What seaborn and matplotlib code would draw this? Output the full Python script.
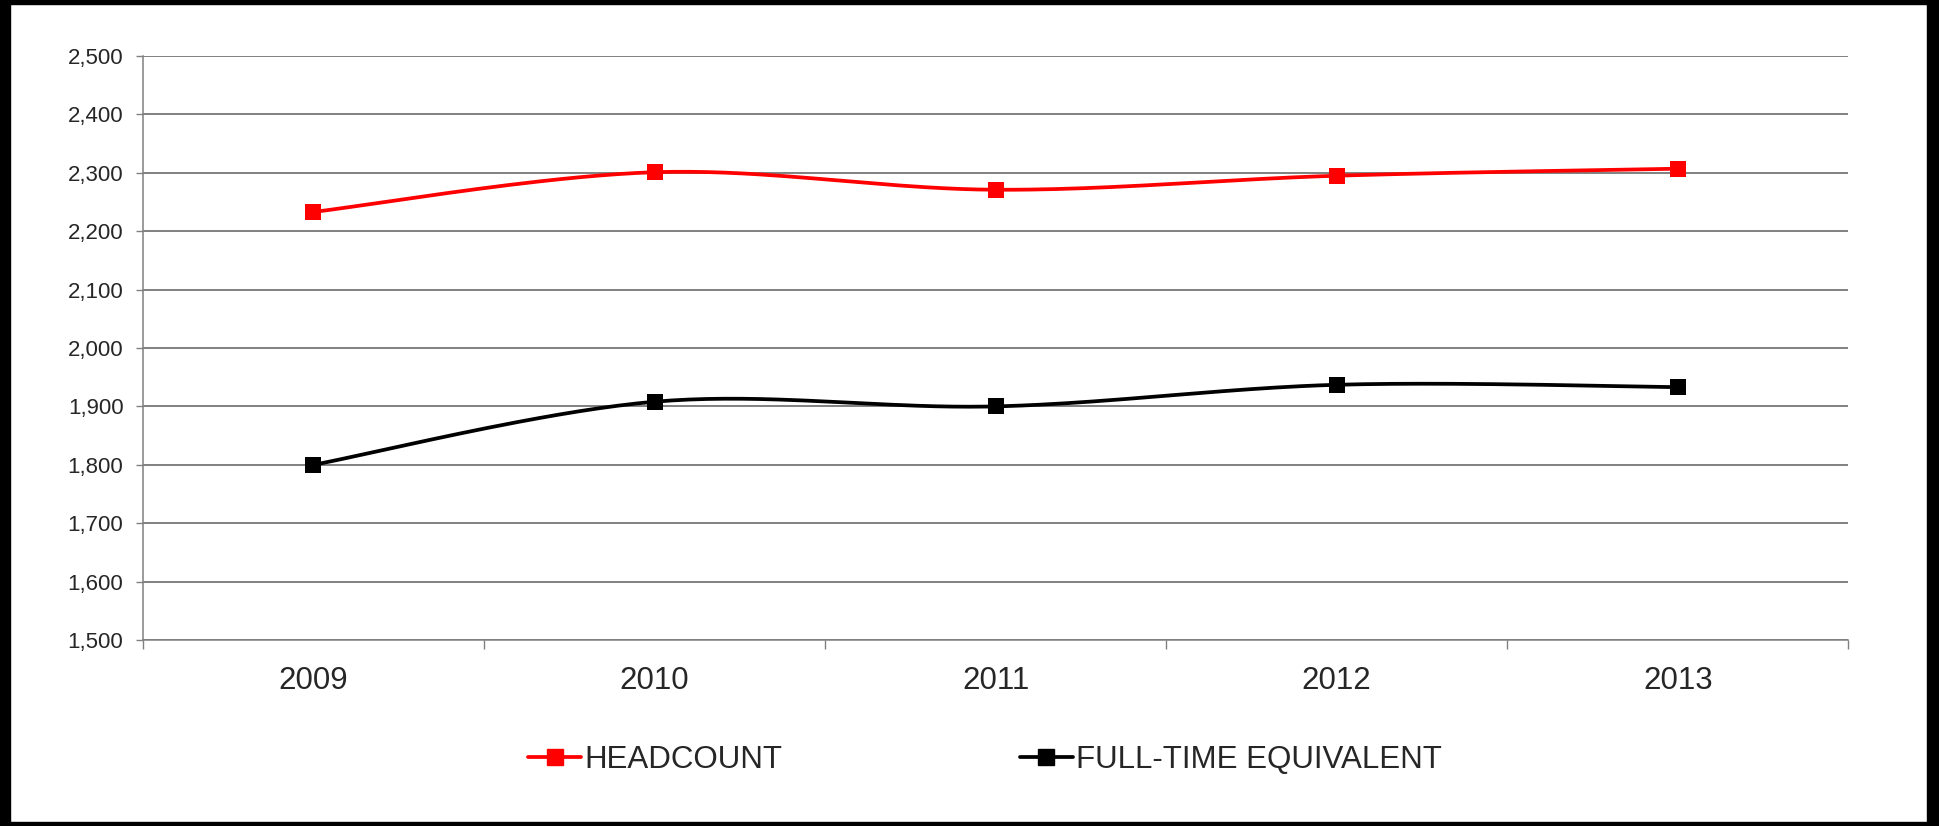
import numpy as np
import pandas as pd
import matplotlib
matplotlib.use("Agg")
import matplotlib.pyplot as plt
from matplotlib.lines import Line2D
from matplotlib.patches import Rectangle
from matplotlib.ticker import FuncFormatter
import seaborn as sns

# Data
years = ["2009", "2010", "2011", "2012", "2013"]
headcount = [2233, 2301, 2271, 2295, 2307]
fte = [1800, 1908, 1900, 1937, 1933]
series_names = ["HEADCOUNT", "FULL-TIME EQUIVALENT"]
series_colors = ["#ff0000", "#000000"]


# Excel-style smoothed line (Catmull-Rom through the data points)
def smooth_curve(values, steps=40):
    x = np.arange(len(values), dtype=float)
    y = np.asarray(values, dtype=float)
    px = np.concatenate([[x[0]], x, [x[-1]]])
    py = np.concatenate([[y[0]], y, [y[-1]]])
    xs, ys = [], []
    t = np.linspace(0, 1, steps)
    for i in range(1, len(px) - 2):
        p0x, p3x = px[i], px[i + 1]
        p0y, p3y = py[i], py[i + 1]
        p1x = p0x + (px[i + 1] - px[i - 1]) / 6
        p1y = p0y + (py[i + 1] - py[i - 1]) / 6
        p2x = p3x - (px[i + 2] - px[i]) / 6
        p2y = p3y - (py[i + 2] - py[i]) / 6
        bx = (1 - t) ** 3 * p0x + 3 * (1 - t) ** 2 * t * p1x + 3 * (1 - t) * t ** 2 * p2x + t ** 3 * p3x
        by = (1 - t) ** 3 * p0y + 3 * (1 - t) ** 2 * t * p1y + 3 * (1 - t) * t ** 2 * p2y + t ** 3 * p3y
        xs.extend(bx)
        ys.extend(by)
    return pd.DataFrame({"x": xs, "y": ys})


sns.set_style("white")
plt.rcParams["font.family"] = ["Liberation Sans", "DejaVu Sans"]

fig = plt.figure(figsize=(19.39, 8.26), dpi=100)
ax = fig.add_axes([0.0737, 0.2252, 0.8795, 0.7070])

for values, name, color in zip([headcount, fte], series_names, series_colors):
    curve = smooth_curve(values)
    sns.lineplot(data=curve, x="x", y="y", sort=False, color=color,
                 linewidth=2.7, ax=ax, legend=False, zorder=3)
    pts = pd.DataFrame({"x": np.arange(len(years)), "y": values})
    sns.scatterplot(data=pts, x="x", y="y", marker="s", s=125, color=color,
                    edgecolor=color, linewidth=0, ax=ax, legend=False, zorder=4)

ax.set_xlim(-0.5, len(years) - 0.5)
ax.set_ylim(1500, 2500)
ax.set_yticks(np.arange(1500, 2501, 100))
ax.yaxis.set_major_formatter(FuncFormatter(lambda v, p: f"{v:,.0f}"))

ax.set_xticks(np.arange(-0.5, len(years), 1.0))
ax.set_xticklabels([])
ax.set_xticks(np.arange(len(years)), minor=True)
ax.set_xticklabels(years, minor=True, fontsize=22.5)
ax.tick_params(axis="x", which="major", length=6.5, width=1, color="#808080",
               direction="out", bottom=True)
ax.tick_params(axis="x", which="minor", length=0, pad=19)
ax.tick_params(axis="y", length=5, width=1, color="#808080", direction="out",
               left=True, labelsize=16, pad=9)

ax.set_xlabel("")
ax.set_ylabel("")
ax.grid(axis="y", color="#5e5e5e", linewidth=1.1)
ax.set_axisbelow(True)
for side in ["top", "right"]:
    ax.spines[side].set_visible(False)
for side in ["left", "bottom"]:
    ax.spines[side].set_color("#808080")
    ax.spines[side].set_linewidth(1.1)

handles = [
    Line2D([0], [0], color=c, linewidth=2.7, marker="s", markersize=12)
    for c in series_colors
]
fig.legend(handles, series_names, loc="center", bbox_to_anchor=(0.508, 0.080),
           ncol=2, frameon=False, fontsize=22.5, handlelength=1.7,
           handletextpad=0.1, columnspacing=7.6)

# Black frame around the chart
fig.add_artist(Rectangle((0, 0), 10 / 1939, 1, transform=fig.transFigure, color="black"))
fig.add_artist(Rectangle((1 - 12 / 1939, 0), 12 / 1939, 1, transform=fig.transFigure, color="black"))
fig.add_artist(Rectangle((0, 1 - 4 / 826), 1, 4 / 826, transform=fig.transFigure, color="black"))
fig.add_artist(Rectangle((0, 0), 1, 4 / 826, transform=fig.transFigure, color="black"))

fig.savefig("out.png", dpi=100, facecolor="white")
